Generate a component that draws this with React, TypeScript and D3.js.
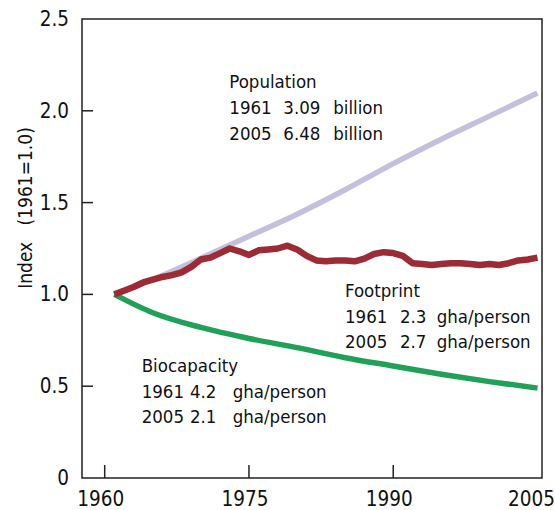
import React from "react";
import * as d3 from "d3";

const populationYears = [1961, 1965, 1970, 1975, 1980, 1985, 1990, 1995, 2000, 2005];
const populationIndex = [1.0, 1.081, 1.197, 1.317, 1.437, 1.57, 1.712, 1.845, 1.971, 2.097];

const footprintYears = [
  1961, 1962, 1963, 1964, 1965, 1966, 1967, 1968, 1969, 1970,
  1971, 1972, 1973, 1974, 1975, 1976, 1977, 1978, 1979, 1980,
  1981, 1982, 1983, 1984, 1985, 1986, 1987, 1988, 1989, 1990,
  1991, 1992, 1993, 1994, 1995, 1996, 1997, 1998, 1999, 2000,
  2001, 2002, 2003, 2004, 2005,
];
const footprintIndex = [
  1.0, 1.02, 1.04, 1.065, 1.08, 1.095, 1.105, 1.12, 1.15, 1.19,
  1.2, 1.225, 1.25, 1.235, 1.215, 1.24, 1.245, 1.25, 1.265, 1.245,
  1.21, 1.185, 1.18, 1.185, 1.185, 1.18, 1.195, 1.22, 1.23, 1.225,
  1.21, 1.17, 1.165, 1.16, 1.165, 1.17, 1.17, 1.165, 1.16, 1.165,
  1.16, 1.17, 1.185, 1.19, 1.2,
];

const biocapacityYears = [1961, 1965, 1970, 1975, 1980, 1985, 1990, 1995, 2000, 2005];
const biocapacityIndex = [1.0, 0.9, 0.82, 0.76, 0.71, 0.655, 0.61, 0.565, 0.525, 0.49];

const xTicks = [1960, 1975, 1990, 2005];
const yTicks = [0, 0.5, 1.0, 1.5, 2.0, 2.5];
const yTickLabels = ["0", "0.5", "1.0", "1.5", "2.0", "2.5"];

const populationText = ["Population", ["1961", "3.09", "billion"], ["2005", "6.48", "billion"]];
const footprintText = ["Footprint", ["1961", "2.3", "gha/person"], ["2005", "2.7", "gha/person"]];
const biocapacityText = ["Biocapacity", ["1961", "4.2", "gha/person"], ["2005", "2.1", "gha/person"]];

const W = 555;
const H = 510;
const frame = { left: 82, top: 19, right: 542, bottom: 478 };
const FONT = "'DejaVu Sans Condensed', 'DejaVu Sans', sans-serif";
const TICKFONT = "'Liberation Sans Narrow', 'DejaVu Sans Condensed', sans-serif";

function Annotation({ x, y, cols, lines }: { x: number; y: number; cols: number[]; lines: any[] }) {
  const lh = 25.8;
  return (
    <g fontFamily={FONT} fontSize={18.5} fill="#111" style={{ fontStretch: "condensed" }}>
      <text x={x} y={y}>{lines[0]}</text>
      {[1, 2].map((i) => (
        <text key={i} y={y + lh * i}>
          {lines[i].map((t: string, j: number) => (
            <tspan key={j} x={x + cols[j]}>{t}</tspan>
          ))}
        </text>
      ))}
    </g>
  );
}

export default function App() {
  const x = d3.scaleLinear().domain([1960, 2005]).range([104.7, 537.5]);
  const y = d3.scaleLinear().domain([0, 2.5]).range([frame.bottom, frame.top]);

  const mk = (xs: number[], vs: number[], curve: any) =>
    d3
      .line<number>()
      .x((_, i) => x(xs[i]))
      .y((v) => y(v))
      .curve(curve)(vs) || "";

  const popPath = mk(populationYears, populationIndex, d3.curveMonotoneX);
  const fpPath = mk(footprintYears, footprintIndex, d3.curveLinear);
  const bioPath = mk(biocapacityYears, biocapacityIndex, d3.curveMonotoneX);

  return (
    <svg width={W} height={H} style={{ position: "absolute", left: 0, top: 0, background: "#fff" }}>
      <rect x={0} y={0} width={W} height={H} fill="#fff" />
      <rect
        x={frame.left}
        y={frame.top}
        width={frame.right - frame.left}
        height={frame.bottom - frame.top}
        fill="none"
        stroke="#222"
        strokeWidth={1.5}
      />
      {yTicks.map((t, i) => (
        <g key={"y" + i}>
          {t > 0 && t < 2.5 && (
            <line x1={frame.left} x2={frame.left + 11} y1={y(t)} y2={y(t)} stroke="#222" strokeWidth={1.5} />
          )}
          <text
            x={69}
            y={y(t) + 7}
            textAnchor="end"
            fontFamily={TICKFONT}
            fontSize={20.5}
            fill="#111"
          >
            {yTickLabels[i]}
          </text>
        </g>
      ))}
      {xTicks.map((t) => (
        <g key={"x" + t}>
          {t < 2005 && (
            <line x1={x(t)} x2={x(t)} y1={frame.bottom} y2={frame.bottom - 13} stroke="#222" strokeWidth={1.5} />
          )}
          <text
            x={t === 2005 ? x(t) - 6 : x(t) - 4}
            y={506}
            textAnchor="middle"
            fontFamily={TICKFONT}
            fontSize={20.5}
            fill="#111"
          >
            {t}
          </text>
        </g>
      ))}
      <text
        transform={`translate(32, 208) rotate(-90)`}
        textAnchor="middle"
        fontFamily={FONT}
        fontSize={19}
        fill="#111"
        style={{ fontStretch: "condensed", whiteSpace: "pre" }}
      >
        {"Index   (1961=1.0)"}
      </text>
      <path d={popPath} fill="none" stroke="#c4bfdc" strokeWidth={5.5} />
      <path d={bioPath} fill="none" stroke="#21a158" strokeWidth={5.5} />
      <path d={fpPath} fill="none" stroke="#9c2b35" strokeWidth={6.5} strokeLinejoin="round" />
      <Annotation x={229.3} y={88.3} cols={[0, 54, 104]} lines={populationText} />
      <Annotation x={345} y={296.7} cols={[0, 55, 91.7]} lines={footprintText} />
      <Annotation x={141.7} y={371.7} cols={[0, 48.3, 91]} lines={biocapacityText} />
    </svg>
  );
}
